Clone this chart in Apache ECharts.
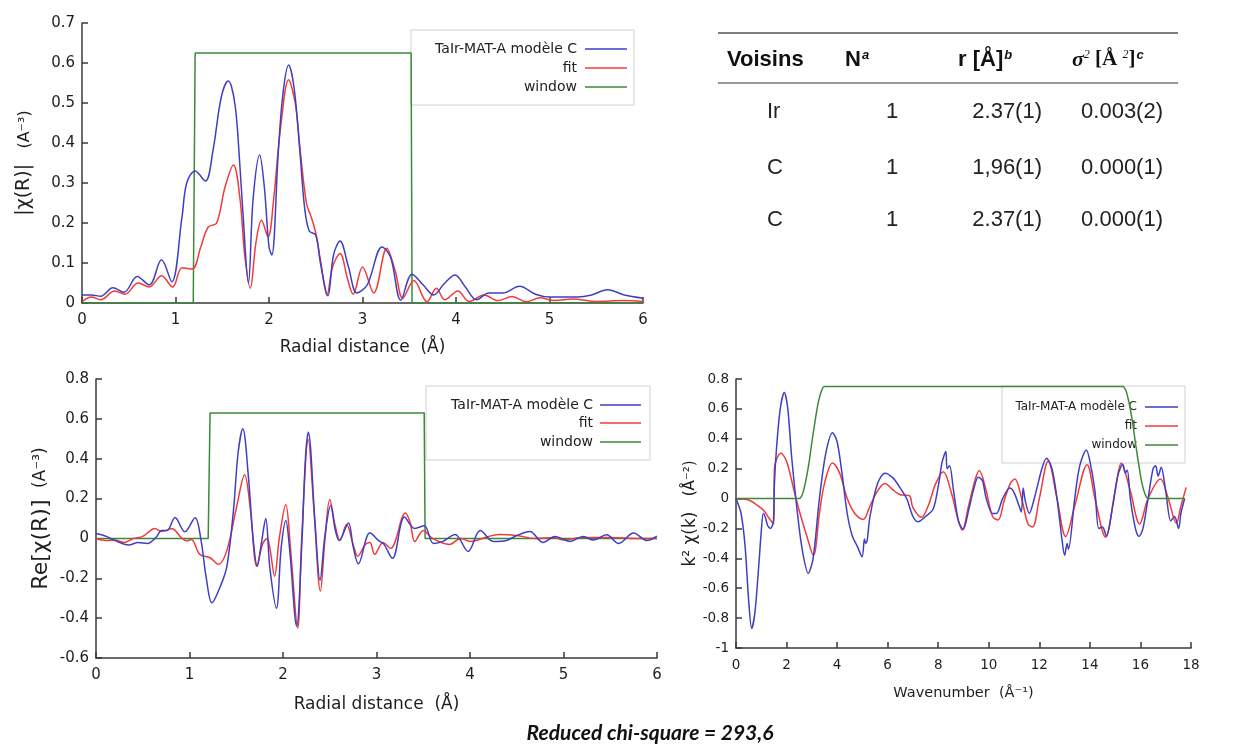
<!DOCTYPE html>
<html>
<head>
<meta charset="utf-8">
<script src="https://cdn.jsdelivr.net/npm/echarts@6/dist/echarts.min.js"></script>
<style>
html,body{margin:0;padding:0;background:#fff;}
#chart{width:1236px;height:749px;}
</style>
</head>
<body>
<div id="chart"></div>
<script>
// ---------- DATA ----------
const seriesNames = ['TaIr-MAT-A modèle C', 'fit', 'window'];
const seriesColors = ['#3f3fc2', '#f23a3a', '#3a8a3a'];

// |chi(R)| (top-left)
const magData = [[0,0.02],[0.1,0.02],[0.2,0.017],[0.33,0.038],[0.45,0.027],[0.59,0.066],[0.72,0.045],[0.85,0.108],[0.96,0.053],[1.07,0.216],[1.12,0.3],[1.21,0.33],[1.32,0.305],[1.4,0.38],[1.49,0.515],[1.565,0.555],[1.6,0.54],[1.64,0.49],[1.67,0.41],[1.72,0.23],[1.78,0.05],[1.83,0.26],[1.9,0.37],[1.95,0.29],[2.0,0.14],[2.03,0.12],[2.1,0.38],[2.15,0.525],[2.21,0.595],[2.27,0.535],[2.33,0.38],[2.38,0.24],[2.43,0.18],[2.5,0.17],[2.55,0.1],[2.63,0.018],[2.69,0.12],[2.76,0.155],[2.85,0.09],[2.94,0.025],[3.05,0.045],[3.21,0.14],[3.3,0.115],[3.41,0.007],[3.53,0.072],[3.65,0.045],[3.76,0.02],[3.88,0.05],[3.99,0.07],[4.1,0.04],[4.22,0.008],[4.35,0.025],[4.5,0.025],[4.68,0.042],[4.85,0.022],[5.0,0.015],[5.3,0.015],[5.45,0.02],[5.62,0.033],[5.8,0.02],[6.0,0.012]];
const magFit = [[0,0.003],[0.1,0.015],[0.2,0.008],[0.35,0.03],[0.46,0.022],[0.6,0.05],[0.72,0.04],[0.85,0.068],[0.97,0.04],[1.07,0.088],[1.18,0.085],[1.27,0.14],[1.35,0.19],[1.44,0.2],[1.53,0.29],[1.62,0.345],[1.69,0.26],[1.74,0.12],[1.8,0.037],[1.86,0.15],[1.92,0.207],[1.99,0.165],[2.05,0.26],[2.12,0.43],[2.21,0.558],[2.28,0.5],[2.33,0.39],[2.4,0.25],[2.45,0.216],[2.5,0.175],[2.55,0.107],[2.62,0.02],[2.68,0.09],[2.76,0.124],[2.84,0.06],[2.9,0.022],[3.0,0.09],[3.12,0.025],[3.26,0.137],[3.35,0.08],[3.43,0.012],[3.55,0.056],[3.69,0.003],[3.79,0.037],[3.88,0.008],[4.02,0.03],[4.14,0.004],[4.3,0.02],[4.45,0.006],[4.6,0.016],[4.75,0.003],[4.9,0.013],[5.05,0.006],[5.25,0.01],[5.5,0.004],[5.8,0.006],[6.0,0.004]];
const magWindow = [[0,0],[1.19,0],[1.21,0.625],[3.52,0.625],[3.53,0],[6,0]];

// Re[chi(R)] (bottom-left)
const reData = [[0,0.025],[0.1,0.012],[0.2,-0.01],[0.35,-0.033],[0.45,-0.02],[0.55,-0.025],[0.65,0.01],[0.7,0.04],[0.76,0.04],[0.845,0.105],[0.95,0.033],[1.06,0.104],[1.12,0.0],[1.18,-0.2],[1.24,-0.323],[1.33,-0.24],[1.4,-0.14],[1.47,0.14],[1.52,0.43],[1.57,0.55],[1.63,0.31],[1.68,0.0],[1.725,-0.14],[1.77,-0.02],[1.815,0.1],[1.86,-0.15],[1.93,-0.35],[1.98,-0.05],[2.03,0.09],[2.07,-0.05],[2.146,-0.44],[2.2,-0.04],[2.24,0.4],[2.27,0.533],[2.345,0.06],[2.396,-0.21],[2.45,0.02],[2.51,0.165],[2.56,0.04],[2.6,-0.01],[2.7,0.078],[2.75,-0.04],[2.806,-0.127],[2.93,0.028],[3.02,-0.01],[3.08,-0.03],[3.17,-0.1],[3.3,0.107],[3.41,0.05],[3.51,0.063],[3.61,-0.025],[3.71,-0.015],[3.84,0.02],[3.98,-0.065],[4.11,0.04],[4.25,-0.015],[4.39,-0.01],[4.48,0.01],[4.64,0.035],[4.78,-0.02],[4.91,0.01],[5.07,-0.015],[5.21,0.01],[5.32,-0.008],[5.46,0.018],[5.59,-0.025],[5.75,0.027],[5.89,-0.01],[6.0,0.012]];
const reFit = [[0,0.0],[0.1,-0.01],[0.2,-0.008],[0.3,-0.02],[0.4,0.0],[0.5,0.01],[0.63,0.05],[0.7,0.035],[0.81,0.048],[0.92,0.0],[0.97,-0.012],[1.02,-0.005],[1.11,-0.08],[1.22,-0.097],[1.31,-0.13],[1.4,-0.06],[1.5,0.15],[1.59,0.32],[1.65,0.15],[1.72,-0.14],[1.78,-0.03],[1.83,0.0],[1.86,-0.05],[1.91,-0.19],[1.96,0.0],[2.03,0.17],[2.08,-0.05],[2.157,-0.45],[2.2,0.0],[2.27,0.497],[2.33,0.15],[2.4,-0.264],[2.45,0.0],[2.5,0.195],[2.56,0.06],[2.61,-0.01],[2.68,0.07],[2.75,-0.03],[2.8,-0.089],[2.88,-0.03],[2.93,-0.02],[2.98,-0.08],[3.07,-0.02],[3.15,-0.05],[3.31,0.128],[3.36,0.08],[3.41,-0.015],[3.5,0.04],[3.6,0.0],[3.78,-0.03],[3.9,0.0],[4.0,-0.015],[4.2,0.01],[4.32,0.02],[4.5,0.015],[4.7,0.0],[4.9,0.005],[5.0,-0.008],[5.2,0.005],[5.5,0.005],[5.8,0.0],[6.0,0.0]];
const reWindow = [[0,0],[1.2,0],[1.22,0.63],[3.51,0.63],[3.52,0],[6,0]];

// k^2 chi(k) (bottom-right)
const kData = [[0,0],[0.2,-0.1],[0.36,-0.32],[0.5,-0.68],[0.62,-0.87],[0.75,-0.76],[0.9,-0.45],[1.0,-0.22],[1.08,-0.1],[1.17,-0.13],[1.25,-0.18],[1.37,-0.2],[1.48,-0.15],[1.52,0.1],[1.6,0.33],[1.75,0.6],[1.91,0.71],[2.05,0.6],[2.2,0.28],[2.4,-0.05],[2.6,-0.32],[2.86,-0.5],[3.05,-0.4],[3.3,0.0],[3.55,0.3],[3.82,0.44],[4.0,0.38],[4.2,0.16],[4.4,-0.1],[4.6,-0.25],[4.8,-0.32],[4.99,-0.39],[5.08,-0.27],[5.13,-0.3],[5.19,-0.28],[5.3,-0.12],[5.6,0.1],[5.89,0.17],[6.2,0.14],[6.5,0.07],[6.75,0.0],[7.0,-0.12],[7.2,-0.155],[7.5,-0.12],[7.8,-0.07],[8.0,0.08],[8.15,0.24],[8.3,0.315],[8.35,0.2],[8.45,0.22],[8.6,0.06],[8.8,-0.15],[8.99,-0.207],[9.2,-0.08],[9.4,0.06],[9.58,0.142],[9.75,0.12],[9.9,0.0],[10.15,-0.1],[10.3,-0.1],[10.55,0.0],[10.83,0.07],[11.0,0.04],[11.2,-0.05],[11.29,-0.09],[11.36,0.07],[11.45,-0.02],[11.6,-0.1],[11.8,0.0],[12.1,0.2],[12.28,0.27],[12.5,0.2],[12.7,0.0],[12.9,-0.28],[13.0,-0.38],[13.1,-0.3],[13.15,-0.34],[13.4,0.0],[13.6,0.22],[13.86,0.325],[14.0,0.25],[14.2,0.05],[14.35,-0.2],[14.5,-0.19],[14.65,-0.25],[14.9,-0.05],[15.1,0.15],[15.3,0.23],[15.4,0.17],[15.48,0.19],[15.6,0.0],[15.8,-0.2],[15.94,-0.254],[16.1,-0.2],[16.3,0.0],[16.5,0.2],[16.6,0.22],[16.7,0.15],[16.82,0.21],[17.0,0.05],[17.2,-0.15],[17.35,-0.12],[17.51,-0.2],[17.6,-0.1],[17.75,0.0]];
const kFit = [[0,0],[0.5,-0.01],[0.8,-0.04],[1.1,-0.08],[1.3,-0.13],[1.49,-0.17],[1.52,0.2],[1.78,0.303],[2.0,0.25],[2.3,0.05],[2.5,-0.08],[2.8,-0.25],[3.06,-0.38],[3.3,-0.1],[3.5,0.1],[3.82,0.238],[4.1,0.17],[4.4,0.0],[4.7,-0.1],[5.03,-0.14],[5.3,-0.05],[5.6,0.05],[5.89,0.1],[6.2,0.06],[6.5,0.025],[6.85,0.02],[7.0,-0.06],[7.34,-0.125],[7.6,-0.05],[7.9,0.1],[8.2,0.18],[8.5,0.05],[8.8,-0.15],[8.95,-0.21],[9.2,-0.05],[9.45,0.12],[9.62,0.187],[9.9,0.05],[10.15,-0.12],[10.37,-0.143],[10.6,-0.02],[10.85,0.1],[11.03,0.131],[11.3,0.0],[11.55,-0.17],[11.73,-0.19],[12.0,0.0],[12.35,0.25],[12.7,0.0],[13.04,-0.254],[13.4,-0.05],[13.89,0.227],[14.2,0.0],[14.62,-0.258],[15.0,0.05],[15.24,0.236],[15.6,0.05],[15.97,-0.17],[16.3,0.0],[16.79,0.131],[17.1,0.0],[17.42,-0.165],[17.6,-0.05],[17.81,0.075]];
const kWindow = [[0,0],[2.5,0],[2.63,0.03],[2.75,0.11],[2.88,0.23],[3.0,0.375],[3.13,0.52],[3.25,0.64],[3.38,0.72],[3.5,0.75],[15.3,0.75],[15.43,0.72],[15.55,0.64],[15.68,0.52],[15.8,0.375],[15.93,0.23],[16.05,0.11],[16.18,0.03],[16.3,0],[17.75,0]];

// Table
const tableNeighbors = ['Ir', 'C', 'C'];
const tableN = ['1', '1', '1'];
const tableR = ['2.37(1)', '1,96(1)', '2.37(1)'];
const tableSigma2 = ['0.003(2)', '0.000(1)', '0.000(1)'];
const caption = 'Reduced chi-square = 293,6';

// ---------- CHART ----------
const chart = echarts.init(document.getElementById('chart'));
const AX = '#3a3a3a';
const LABEL = '#1e1e1e';

function mkX(idx, min, max, interval, name, fs, nameFs, nameGap) {
  return {
    gridIndex: idx, type: 'value', min: min, max: max, interval: interval,
    name: name, nameLocation: 'middle', nameGap: nameGap,
    nameTextStyle: { fontFamily: 'DejaVu Sans', fontSize: nameFs, color: LABEL },
    axisLine: { show: true, onZero: false, lineStyle: { color: AX, width: 1.5 } },
    axisTick: { show: true, inside: true, length: 6, lineStyle: { color: AX, width: 1.5 } },
    axisLabel: { fontFamily: 'DejaVu Sans', fontSize: fs, color: LABEL, margin: 10 },
    splitLine: { show: false }
  };
}
function mkY(idx, min, max, interval, name, fs, nameGap, rich) {
  return {
    gridIndex: idx, type: 'value', min: min, max: max, interval: interval,
    name: name, nameLocation: 'middle', nameGap: nameGap,
    nameTextStyle: { fontFamily: 'DejaVu Sans', color: LABEL, rich: rich },
    axisLine: { show: true, onZero: false, lineStyle: { color: AX, width: 1.5 } },
    axisTick: { show: true, inside: true, length: 6, lineStyle: { color: AX, width: 1.5 } },
    axisLabel: { fontFamily: 'DejaVu Sans', fontSize: fs, color: LABEL, margin: 7 },
    splitLine: { show: false }
  };
}
function line(name, data, color, xi, smooth) {
  return {
    type: 'line', name: name, data: data, xAxisIndex: xi, yAxisIndex: xi,
    showSymbol: false, symbol: 'none', smooth: smooth, z: 5,
    lineStyle: { color: color, width: 1.5 }, itemStyle: { color: color },
    animation: false
  };
}

// legend graphics
function legendGraphic(box, textRight, lineX1, lineX2, rowsY, font) {
  const els = [{
    type: 'rect', z: 1,
    shape: { x: box[0], y: box[1], width: box[2], height: box[3] },
    style: { fill: 'rgba(255,255,255,0.85)', stroke: '#d0d0d0', lineWidth: 1 }
  }];
  seriesNames.forEach(function (n, i) {
    els.push({
      type: 'text', z: 1, x: textRight, y: rowsY[i],
      style: { text: n, font: font, fill: '#222', align: 'right', verticalAlign: 'middle', textAlign: 'right', textVerticalAlign: 'middle' }
    });
    els.push({
      type: 'line', z: 1,
      shape: { x1: lineX1, y1: rowsY[i], x2: lineX2, y2: rowsY[i] },
      style: { stroke: seriesColors[i], lineWidth: 1.5 }
    });
  });
  return els;
}

const graphics = [];
Array.prototype.push.apply(graphics, legendGraphic([411, 30, 223, 75], 577, 585, 627, [49, 68, 87], '14px "DejaVu Sans"'));
Array.prototype.push.apply(graphics, legendGraphic([426, 386, 224, 74], 593, 600, 641, [405, 423, 442], '14px "DejaVu Sans"'));
Array.prototype.push.apply(graphics, legendGraphic([1002, 386, 183, 77], 1137, 1145, 1178, [407, 426, 445], '12px "DejaVu Sans"'));

// table
const tFont = '22px "Liberation Sans", Arial, sans-serif';
graphics.push({ type: 'line', shape: { x1: 718, y1: 33, x2: 1178, y2: 33 }, style: { stroke: '#555', lineWidth: 1.5 } });
graphics.push({ type: 'line', shape: { x1: 718, y1: 83, x2: 1178, y2: 83 }, style: { stroke: '#777', lineWidth: 1.5 } });
const supStyle = { fontSize: 13, fontStyle: 'italic', fontWeight: 'bold', fontFamily: 'Liberation Sans', fill: '#111', padding: [0, 0, 10, 1] };
const headers = [
  { x: 727, text: '{b|Voisins}' },
  { x: 845, text: '{b|N}{s|a}' },
  { x: 958, text: '{b|r [Å]}{s|b}' },
  { x: 1072, text: '{g|σ}{s2|2}{t| [Å }{s2|2}{t|]}{s|c}' }
];
headers.forEach(function (h) {
  graphics.push({
    type: 'text', x: h.x, y: 60,
    style: {
      text: h.text, align: 'left', verticalAlign: 'middle', textAlign: 'left', textVerticalAlign: 'middle',
      rich: {
        b: { fontSize: 22, fontWeight: 'bold', fontFamily: 'Liberation Sans', fill: '#111' },
        s: supStyle,
        g: { fontSize: 22, fontWeight: 'bold', fontStyle: 'italic', fontFamily: 'Liberation Serif', fill: '#111' },
        s2: { fontSize: 12, fontStyle: 'italic', fontFamily: 'Liberation Serif', fill: '#111', padding: [0, 0, 10, 0] },
        t: { fontSize: 21, fontWeight: 'bold', fontFamily: 'Liberation Serif', fill: '#111' }
      }
    }
  });
});
const rowY = [112, 168, 220];
rowY.forEach(function (y, i) {
  graphics.push({ type: 'text', x: 767, y: y, style: { text: tableNeighbors[i], font: tFont, fill: '#222', align: 'left', verticalAlign: 'middle', textAlign: 'left', textVerticalAlign: 'middle' } });
  graphics.push({ type: 'text', x: 892, y: y, style: { text: tableN[i], font: tFont, fill: '#222', align: 'center', verticalAlign: 'middle', textAlign: 'center', textVerticalAlign: 'middle' } });
  graphics.push({ type: 'text', x: 1042, y: y, style: { text: tableR[i], font: tFont, fill: '#222', align: 'right', verticalAlign: 'middle', textAlign: 'right', textVerticalAlign: 'middle' } });
  graphics.push({ type: 'text', x: 1163, y: y, style: { text: tableSigma2[i], font: tFont, fill: '#222', align: 'right', verticalAlign: 'middle', textAlign: 'right', textVerticalAlign: 'middle' } });
});
// caption
graphics.push({ type: 'text', x: 650, y: 733, style: { text: caption, font: 'italic bold 21px Lato, "Open Sans", sans-serif', fill: '#111', align: 'center', verticalAlign: 'middle', textAlign: 'center', textVerticalAlign: 'middle' } });

const option = {
  backgroundColor: '#fff',
  animation: false,
  grid: [
    { left: 82, top: 23, width: 561, height: 280 },
    { left: 96, top: 379, width: 561, height: 279 },
    { left: 736, top: 379, width: 455, height: 269 }
  ],
  xAxis: [
    mkX(0, 0, 6, 1, 'Radial distance  (Å)', 15, 17, 36),
    mkX(1, 0, 6, 1, 'Radial distance  (Å)', 15, 17, 38),
    mkX(2, 0, 18, 2, 'Wavenumber  (Å⁻¹)', 13.5, 14.5, 38)
  ],
  yAxis: [
    mkY(0, 0, 0.7, 0.1, '{a|\u007Cχ(R)\u007C}    {b|(A⁻³)}', 15, 48, { a: { fontSize: 19, fontFamily: 'DejaVu Sans', color: LABEL }, b: { fontSize: 16, fontFamily: 'DejaVu Sans', color: LABEL } }),
    mkY(1, -0.6, 0.8, 0.2, '{a|Re[χ(R)]}   {b|(A⁻³)}', 15, 44, { a: { fontSize: 22, fontFamily: 'DejaVu Sans', color: LABEL }, b: { fontSize: 17, fontFamily: 'DejaVu Sans', color: LABEL } }),
    mkY(2, -1, 0.8, 0.2, '{a|k² χ(k)}    {b|(Å⁻²)}', 13.5, 36, { a: { fontSize: 17, fontFamily: 'DejaVu Sans', color: LABEL }, b: { fontSize: 15, fontFamily: 'DejaVu Sans', color: LABEL } })
  ],
  series: [
    line(seriesNames[2], magWindow, seriesColors[2], 0, false),
    line(seriesNames[1], magFit, seriesColors[1], 0, 0.35),
    line(seriesNames[0], magData, seriesColors[0], 0, 0.35),
    line(seriesNames[2], reWindow, seriesColors[2], 1, false),
    line(seriesNames[1], reFit, seriesColors[1], 1, 0.35),
    line(seriesNames[0], reData, seriesColors[0], 1, 0.35),
    line(seriesNames[1], kFit, seriesColors[1], 2, 0.35),
    line(seriesNames[0], kData, seriesColors[0], 2, 0.3),
    line(seriesNames[2], kWindow, seriesColors[2], 2, 0.2)
  ],
  graphic: { elements: graphics }
};
chart.setOption(option);
</script>
</body>
</html>
